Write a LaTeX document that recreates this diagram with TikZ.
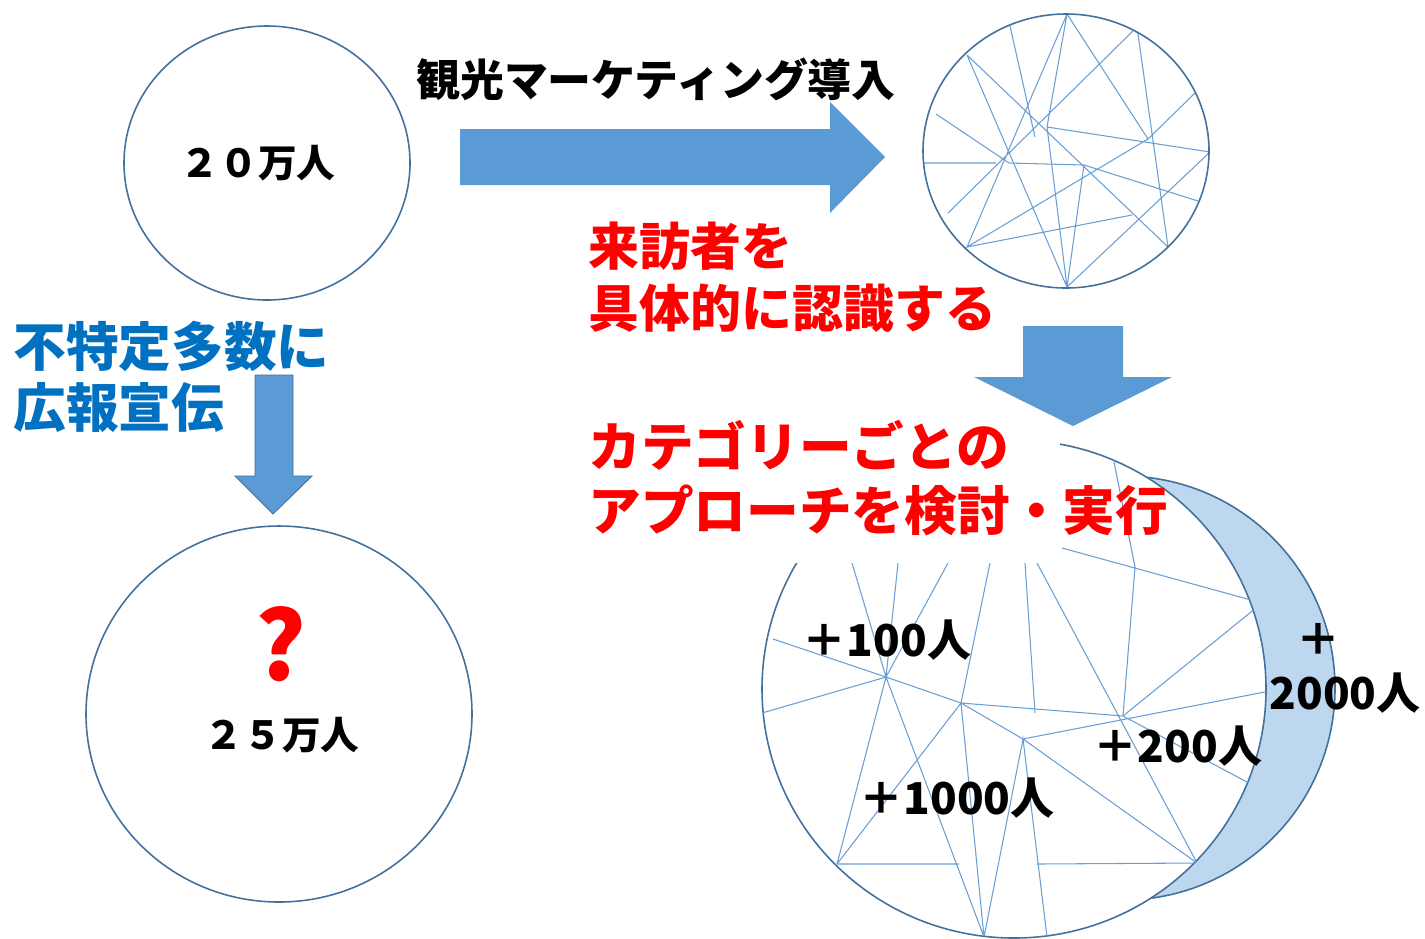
\documentclass[tikz,border=0pt]{standalone}
\usepackage{fontspec}
\setmainfont{Noto Sans CJK JP}
\definecolor{arrowblue}{HTML}{5B9BD5}
\definecolor{ringblue}{HTML}{41719C}
\definecolor{webblue}{HTML}{6A9FD6}
\definecolor{moonblue}{HTML}{BDD7EE}
\definecolor{textblue}{HTML}{0070C0}
\definecolor{textred}{HTML}{FF0000}

\begin{document}
\begin{tikzpicture}[x=0.02cm,y=-0.02cm,
  ring/.style={draw=ringblue,line width=0.9pt},
  web/.style={draw=webblue,line width=0.6pt},
  blockarrow/.style={fill=arrowblue},
  count/.style={inner sep=0pt,font=\bfseries\fontsize{22}{26}\selectfont},
  plus/.style={inner sep=0pt,font=\bfseries\fontsize{25}{31}\selectfont},
  note/.style={inner sep=0pt,anchor=west,align=left,font=\bfseries\fontsize{29}{35}\selectfont}]
\fill[white] (0,0) rectangle (1425,938);
\useasboundingbox (0,0) rectangle (1425,938);

\draw[ring] (267,163) ellipse [x radius=143,y radius=137];
\node[count] (n20) at (258,163) {２０万人};
\draw[ring] (279,714) ellipse [x radius=193,y radius=188];
\node[inner sep=0pt,text=textred,font=\bfseries\fontsize{54}{60}\selectfont] (what) at (281,644) {?};
\node[count] (n25) at (282,735) {２５万人};

\fill[blockarrow] (460,129) -- (830,129) -- (830,102) -- (885,157) -- (830,213) -- (830,185) -- (460,185) -- cycle;
\filldraw[blockarrow,draw=ringblue,line width=0.5pt] (255,375) -- (293,375) -- (293,476) -- (312,476) -- (273,514) -- (235,476) -- (255,476) -- cycle;
\fill[blockarrow] (1023,326) -- (1123,326) -- (1123,377) -- (1172,377) -- (1073,426) -- (974,377) -- (1023,377) -- cycle;

\node[inner sep=0pt,font=\bfseries\fontsize{25}{30}\selectfont] (intro) at (656,79) {観光マーケティング導入};
\node[note,text=textred] (know) at (588,277) {来訪者を\\具体的に認識する};
\node[note,text=textblue,font=\bfseries\fontsize{30}{35}\selectfont] (promo) at (13,377) {不特定多数に\\広報宣伝};

\coordinate (ta) at (1067,14);
\coordinate (tb) at (967,55);
\coordinate (tc) at (1010,26);
\coordinate (td) at (1137,27);
\coordinate (te) at (1195,93);
\coordinate (tf) at (1210,152);
\coordinate (tg) at (1198,201);
\coordinate (th) at (1168,247);
\coordinate (ti) at (1067,287);
\coordinate (tj) at (967,247);
\coordinate (tk) at (948,213);
\coordinate (tl) at (936,114);
\coordinate (tm) at (924,163);
\coordinate (ts) at (996,163);
\coordinate (tn) at (1009,163);
\coordinate (tw) at (1047,127);
\coordinate (tp) at (1084,165);
\coordinate (tq) at (1148,139);
\coordinate (tr) at (1035,137);
\coordinate (tu) at (1132,215);
\begin{scope}
\clip (1066,151) ellipse [x radius=143,y radius=137];
\draw[web] (tm) -- (ts) (tn) -- (tp) -- (tg) (tl) -- (tn) (ta) -- (tj) (tb) -- (ti) (tb) -- (th)
  (ta) -- (tw) -- (ti) (ta) -- (tq) (tc) -- (tr) (td) -- (th) (td) -- (tk) (tw) -- (tf)
  (te) -- (tq) -- (tj) -- (tu) (tf) -- (ti) (tp) -- (ti);
\end{scope}
\draw[ring] (1066,151) ellipse [x radius=143,y radius=137];

\filldraw[ring,fill=moonblue] (1123,688) circle [radius=212];
\filldraw[ring,fill=white] (1014,689) ellipse [x radius=252,y radius=249];
\coordinate (ba) at (773,639);
\coordinate (bb) at (762,713);
\coordinate (hub1) at (886,677);
\coordinate (hub2) at (961,703);
\coordinate (hub3) at (1023,739);
\coordinate (hub4) at (1123,716);
\coordinate (bl) at (837,864);
\coordinate (bm) at (984,937);
\coordinate (bn) at (1047,937);
\coordinate (br) at (1197,863);
\coordinate (bt1) at (852,563);
\coordinate (bt2) at (898,563);
\coordinate (bt3) at (948,563);
\coordinate (bt4) at (990,563);
\coordinate (bt5) at (1025,563);
\coordinate (bt6) at (1037,563);
\coordinate (bx) at (1035,713);
\coordinate (by) at (1112,452);
\coordinate (bz) at (1135,567);
\coordinate (bq) at (1062,548);
\coordinate (bw) at (1262,603);
\coordinate (bv) at (1275,690);
\coordinate (bu) at (1262,790);
\coordinate (bh1) at (959,864);
\coordinate (bh2) at (1037,864);
\begin{scope}
\clip (1014,689) ellipse [x radius=252,y radius=249];
\draw[web] (ba) -- (hub1) -- (hub2) -- (hub4) (bb) -- (hub1) (bt1) -- (hub1) -- (bt2) (bt3) -- (hub1)
  (bt4) -- (hub2) (bl) -- (hub1) -- (bm) (bl) -- (hub2) -- (bm) (hub2) -- (hub3)
  (bm) -- (hub3) -- (bn) (br) -- (hub3) -- (bv) (bl) -- (bh1) (bh2) -- (br)
  (bt5) -- (bx) (bt6) -- (br) (by) -- (bz) -- (hub4) (bq) -- (bw) -- (hub4) -- (bu);
\end{scope}
\fill[white] (580,432) rectangle (1060,563);
\node[note,text=textred,font=\bfseries\fontsize{30}{36}\selectfont] (plan) at (588,478) {カテゴリーごとの\\アプローチを検討・実行};

\node[plus] (p100) at (887,640) {＋100人};
\node[plus] (p1000) at (957,798) {＋1000人};
\node[plus] (p200) at (1178,746) {＋200人};
\node[plus,align=center] (p2000) at (1345,668) {＋\phantom{00}\\2000人};
\end{tikzpicture}
\end{document}
